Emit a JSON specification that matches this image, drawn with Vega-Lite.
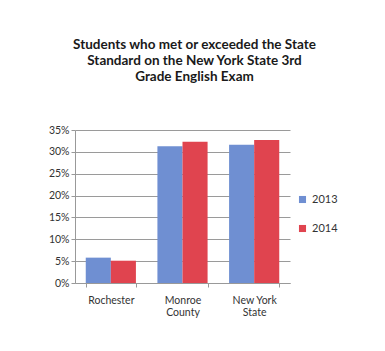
{
  "$schema": "https://vega.github.io/schema/vega-lite/v6.json",
  "autosize": "none",
  "width": 215,
  "height": 153,
  "padding": {"left": 75, "top": 130, "right": 95, "bottom": 68},
  "background": "#ffffff",
  "title": {
    "text": ["Students who met or exceeded the State", "Standard on the New York State 3rd", "Grade English Exam"],
    "font": "Lato",
    "fontSize": 13.5,
    "fontWeight": "bold",
    "color": "#1a1a1a",
    "anchor": "middle",
    "dx": 12,
    "offset": 42,
    "lineHeight": 16
  },
  "data": {
    "values": [
      {"region": "Rochester", "year": "2013", "pct": 0.058},
      {"region": "Rochester", "year": "2014", "pct": 0.051},
      {"region": "Monroe County", "year": "2013", "pct": 0.313},
      {"region": "Monroe County", "year": "2014", "pct": 0.323},
      {"region": "New York State", "year": "2013", "pct": 0.316},
      {"region": "New York State", "year": "2014", "pct": 0.327}
    ]
  },
  "mark": {"type": "bar"},
  "encoding": {
    "x": {
      "field": "region",
      "type": "nominal",
      "sort": ["Rochester", "Monroe County", "New York State"],
      "scale": {"paddingInner": 0.3, "paddingOuter": 0.15},
      "axis": {
        "title": null,
        "labelAngle": 0,
        "labelFont": "Lato",
        "labelFontSize": 10.5,
        "labelColor": "#333333",
        "labelPadding": 8,
        "labelExpr": "datum.label == 'Monroe County' ? ['Monroe', 'County'] : datum.label == 'New York State' ? ['New York', 'State'] : datum.label",
        "domainColor": "#999999",
        "tickColor": "#999999",
        "ticks": true,
        "tickBand": "extent",
        "tickSize": 4
      }
    },
    "xOffset": {"field": "year", "type": "nominal"},
    "y": {
      "field": "pct",
      "type": "quantitative",
      "scale": {"domain": [0, 0.35]},
      "axis": {
        "title": null,
        "format": ".0%",
        "values": [0, 0.05, 0.1, 0.15, 0.2, 0.25, 0.3, 0.35],
        "labelFont": "Lato",
        "labelFontSize": 10.5,
        "labelColor": "#333333",
        "gridColor": "#9a9a9a",
        "domainColor": "#999999",
        "tickColor": "#999999",
        "tickSize": 4
      }
    },
    "color": {
      "field": "year",
      "type": "nominal",
      "scale": {"domain": ["2013", "2014"], "range": ["#6f8fd2", "#e0444f"]},
      "legend": {
        "title": null,
        "orient": "none",
        "legendX": 222,
        "legendY": 64,
        "symbolType": "square",
        "symbolSize": 50,
        "rowPadding": 17,
        "labelFont": "Lato",
        "labelFontSize": 11,
        "labelColor": "#333333"
      }
    }
  },
  "config": {"view": {"stroke": null}}
}
